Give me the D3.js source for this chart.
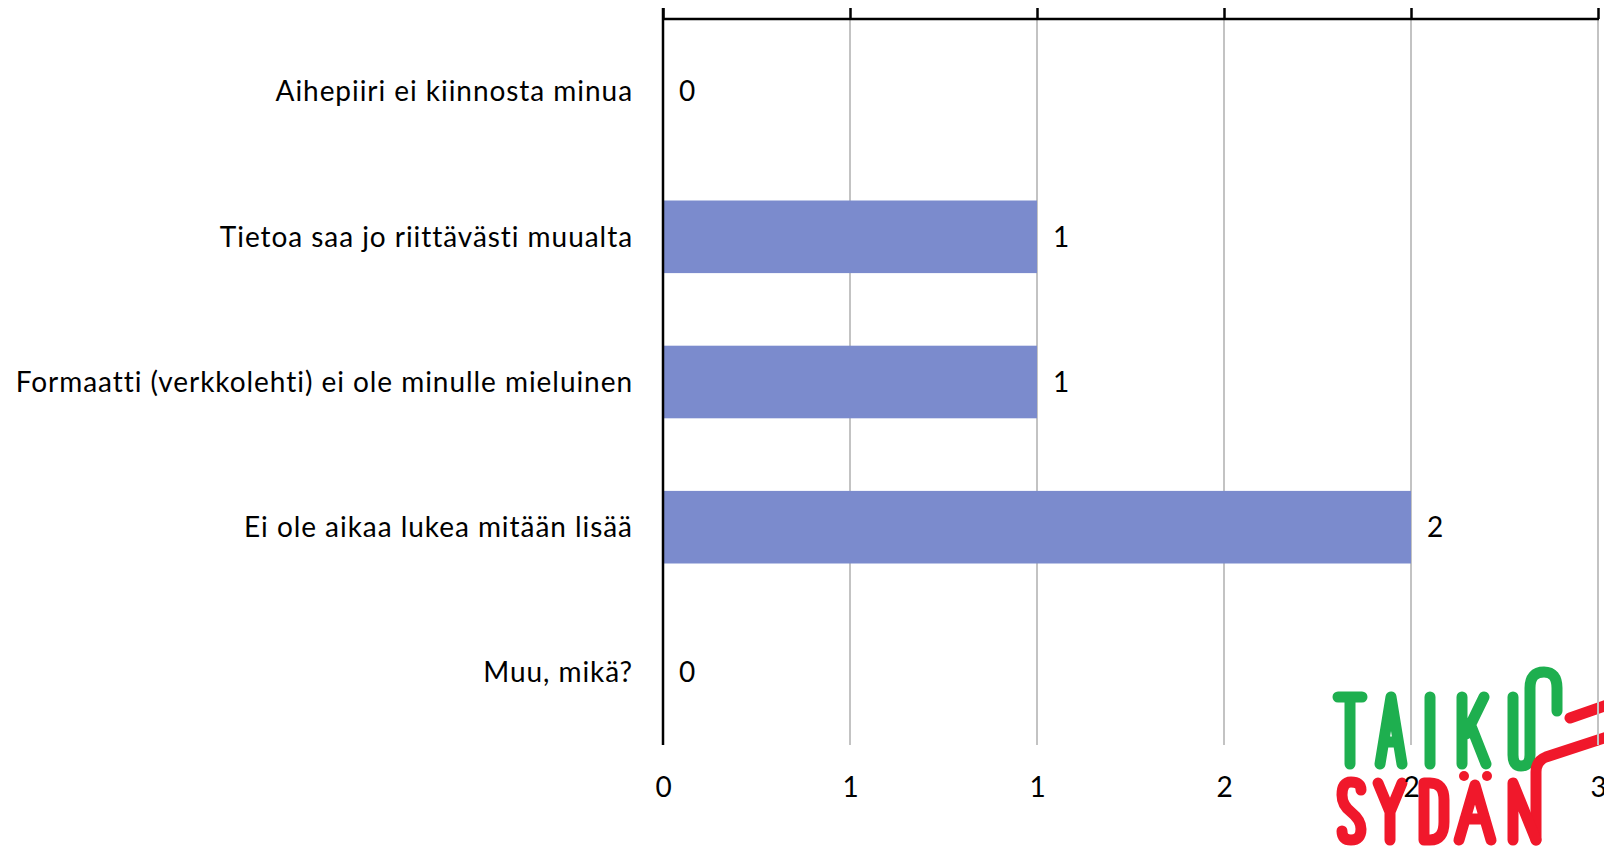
<!DOCTYPE html>
<html>
<head>
<meta charset="utf-8">
<script src="https://cdn.jsdelivr.net/npm/d3@7"></script>
<style>
  html, body { margin: 0; padding: 0; background: #fff; }
  svg { display: block; }
  text { font-family: Lato, 'Open Sans', sans-serif; fill: #000; }
</style>
</head>
<body>
<svg id="chart" width="1604" height="850"></svg>
<script>
// reasons for not reading the magazine (counts)
const categories = [
  'Aihepiiri ei kiinnosta minua',
  'Tietoa saa jo riittävästi muualta',
  'Formaatti (verkkolehti) ei ole minulle mieluinen',
  'Ei ole aikaa lukea mitään lisää',
  'Muu, mikä?'
]
const counts = [0, 1, 1, 2, 0]
const tickValues = [0, 0.5, 1, 1.5, 2, 2.5]
const tickLabels = ['0', '1', '1', '2', '2', '3']

const svg = d3.select('#chart')
const margin = { top: 19, left: 663, right: 6, bottom: 105 }
const width = 1604 - margin.left - margin.right
const height = 850 - margin.top - margin.bottom

// logo goes underneath the chart
drawLogo(svg)

const g = svg.append('g')
  .attr('transform', `translate(${margin.left},${margin.top})`)

const x = d3.scaleLinear().domain([0, 2.5]).range([0, width])
const y = d3.scaleBand().domain(categories).range([0, height]).paddingInner(0.5).paddingOuter(0.25)

// gridlines
g.selectAll('.grid')
  .data(tickValues.slice(1))
  .enter()
  .append('line')
  .attr('class', 'grid')
  .attr('x1', d => x(d)).attr('x2', d => x(d))
  .attr('y1', 0).attr('y2', height)
  .style('stroke', '#c3c3c3')
  .style('stroke-width', 2)

// bars
g.selectAll('.bar')
  .data(counts)
  .enter()
  .append('rect')
  .attr('class', 'bar')
  .attr('x', 0)
  .attr('y', (d, i) => y(categories[i]))
  .attr('width', d => x(d))
  .attr('height', y.bandwidth())
  .style('fill', '#7b8bcd')

// top axis: ticks only, labels go at the bottom
const topAxis = d3.axisTop(x)
  .tickValues(tickValues)
  .tickSize(11)
  .tickFormat('')
const ta = g.append('g').call(topAxis)
ta.select('.domain').remove()
ta.selectAll('line').style('stroke', '#000').style('stroke-width', 2.5)
g.append('line')
  .attr('x1', 0).attr('x2', x(2.5) + 1)
  .attr('y1', 0).attr('y2', 0)
  .style('stroke', '#000').style('stroke-width', 2.5)

// bottom tick labels
const bottomAxis = d3.axisBottom(x)
  .tickValues(tickValues)
  .tickSize(0)
  .tickPadding(0)
  .tickFormat((d, i) => tickLabels[i])
const ba = g.append('g')
  .attr('transform', `translate(0,${height + 42})`)
  .call(bottomAxis)
ba.select('.domain').remove()
ba.selectAll('text')
  .attr('dy', '0.35em')
  .style('font-family', 'Lato, sans-serif')
  .style('font-size', '28px')

// category axis on the left
g.append('line')
  .attr('x1', 0).attr('x2', 0)
  .attr('y1', -11).attr('y2', height)
  .style('stroke', '#000').style('stroke-width', 2.5)

g.selectAll('.cat')
  .data(categories)
  .enter()
  .append('text')
  .attr('class', 'cat')
  .attr('x', -30)
  .attr('y', d => y(d) + y.bandwidth() / 2)
  .attr('dy', '0.35em')
  .attr('text-anchor', 'end')
  .style('font-size', '28px')
  .style('letter-spacing', '0.95px')
  .text(d => d)

// value labels
g.selectAll('.val')
  .data(counts)
  .enter()
  .append('text')
  .attr('class', 'val')
  .attr('x', d => x(d) + 16)
  .attr('y', (d, i) => y(categories[i]) + y.bandwidth() / 2)
  .attr('dy', '0.35em')
  .style('font-size', '28px')
  .text(d => d)

function drawLogo (svg) {
  const logo = svg.append('g')
    .style('fill', 'none')
    .style('stroke-width', 11)
    .style('stroke-linecap', 'round')
    .style('stroke-linejoin', 'round')

  const green = '#1eaf4f'
  const red = '#f0182b'

  const greenPaths = [
    'M1338,697 H1362 M1350,697 V764', // T
    'M1380,764 L1391,697 L1402,764 M1385,742 H1397', // A
    'M1430,697 V764', // I
    'M1462,697 V764 M1484,697 L1466,734 M1471,726 L1486,764', // K
    'M1513,697 V755 Q1513,766 1521,766 Q1530,766 1530,755 V688 Q1530,672 1544,672 Q1557,672 1557,688 V711' // U + loop
  ]
  const redPaths = [
    'M1570,718 L1610,704',
    'M1610,736 L1546,757 Q1536,761 1536,772 V840', // line into N
    'M1361,790 Q1361,782 1351,782 Q1342,782 1342,795 Q1342,805 1351,812 Q1361,820 1361,829 Q1361,840 1351,840 Q1342,840 1342,831', // S
    'M1378,783 L1390,812 L1402,783 M1390,812 V840', // Y
    'M1424,783 V840 H1430 Q1444,840 1444,822 V800 Q1444,783 1430,783 Z', // D
    'M1459,840 L1475,785 L1491,840 M1465,819 H1485', // A
    'M1513,840 V783 L1536,840' // N
  ]
  logo.selectAll('.g').data(greenPaths).enter().append('path')
    .attr('d', d => d).style('stroke', green)
  logo.selectAll('.r').data(redPaths).enter().append('path')
    .attr('d', d => d).style('stroke', red)
  logo.selectAll('.dot').data([1464, 1487]).enter().append('circle')
    .attr('cx', d => d).attr('cy', 776).attr('r', 5)
    .style('fill', red).style('stroke', 'none')
}
</script>
</body>
</html>
